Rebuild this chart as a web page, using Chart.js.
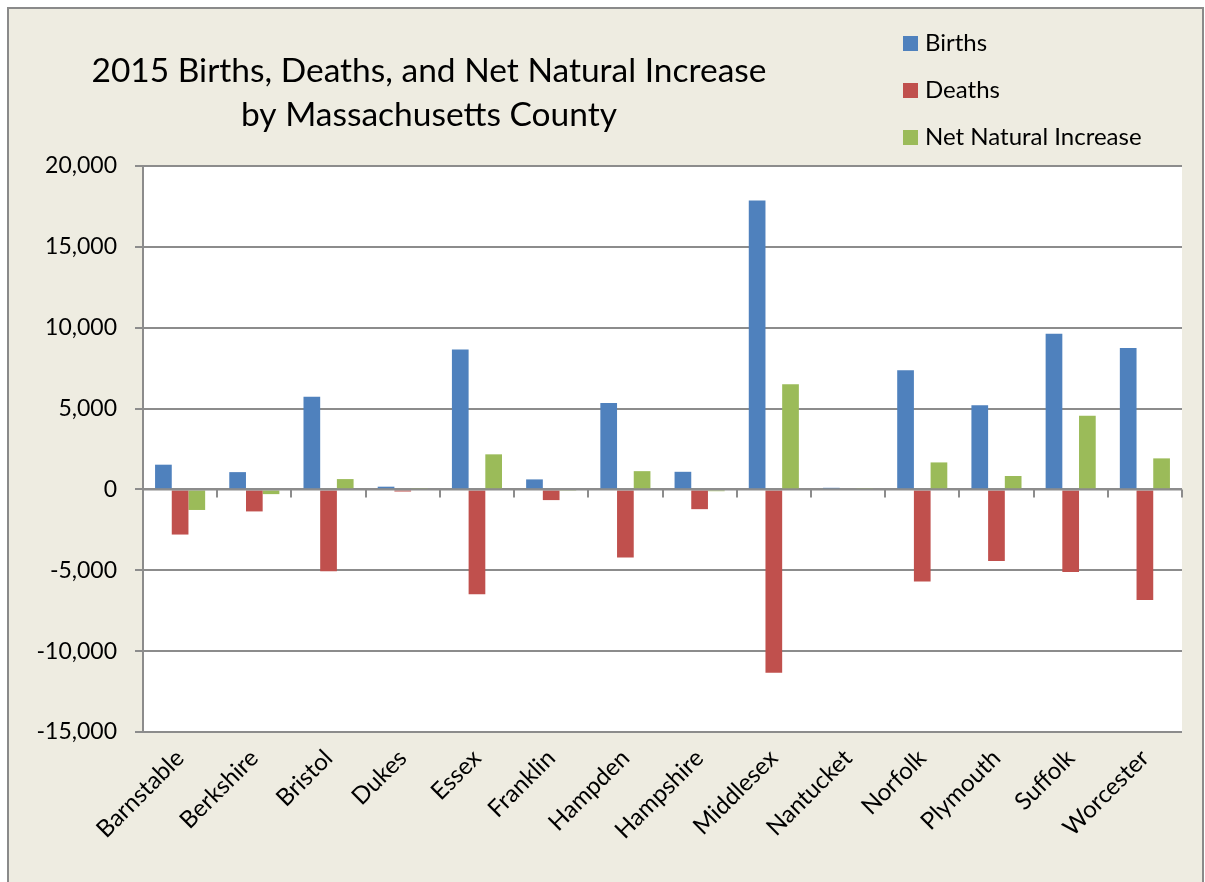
<!DOCTYPE html>
<html>
<head>
<meta charset="utf-8">
<script src="https://cdn.jsdelivr.net/npm/chart.js@4.4.1/dist/chart.umd.min.js"></script>
<style>
html, body { margin: 0; padding: 0; background: #ffffff; }
canvas { display: block; }
</style>
</head>
<body>
<canvas id="chartCanvas" width="1205" height="882"></canvas>
<script>
// data
var counties = ["Barnstable", "Berkshire", "Bristol", "Dukes", "Essex", "Franklin", "Hampden",
    "Hampshire", "Middlesex", "Nantucket", "Norfolk", "Plymouth", "Suffolk", "Worcester"];
var births = [1530, 1070, 5730, 170, 8660, 620, 5340, 1090, 17870, 100, 7370, 5200, 9620, 8750];
var deaths = [-2790, -1360, -5060, -130, -6480, -660, -4210, -1220, -11330, -60, -5700, -4420, -5100, -6830];
var netIncrease = [-1270, -290, 640, 40, 2170, -40, 1130, -110, 6500, 40, 1670, 830, 4560, 1920];
var seriesNames = ["Births", "Deaths", "Net Natural Increase"];
var seriesColors = ["#4F81BD", "#C0504D", "#9BBB59"];
var titleLines = ["2015 Births, Deaths, and Net Natural Increase", "by Massachusetts County"];
var yMin = -15000;
var yMax = 20000;
var yStep = 5000;

var fontFamily = "Lato, 'Open Sans', sans-serif";
var gridColor = "#8c8c8c";

//Background, frame and white plot area
var framePlugin = {
    id: "frame",
    beforeDraw: function (chart) {
        var ctx = chart.ctx;
        var area = chart.chartArea;
        ctx.save();
        ctx.fillStyle = "#ffffff";
        ctx.fillRect(0, 0, chart.width, chart.height);
        ctx.fillStyle = "#EEECE1";
        ctx.fillRect(8, 8, chart.width - 10, chart.height);
        ctx.strokeStyle = "#8a8a8a";
        ctx.lineWidth = 2;
        ctx.strokeRect(8, 8, chart.width - 10, chart.height + 10);
        ctx.fillStyle = "#ffffff";
        ctx.fillRect(area.left, area.top, area.right - area.left, area.bottom - area.top);
        ctx.restore();
    }
};

//Title and legend drawn in the top band
var headerPlugin = {
    id: "header",
    afterDraw: function (chart) {
        var ctx = chart.ctx;
        ctx.save();
        ctx.fillStyle = "#000000";
        ctx.font = "33.5px " + fontFamily;
        ctx.textAlign = "center";
        ctx.textBaseline = "middle";
        ctx.fillText(titleLines[0], 429, 71);
        ctx.fillText(titleLines[1], 429, 115);

        ctx.font = "24px " + fontFamily;
        ctx.textAlign = "left";
        var ys = [43, 90, 137];
        for (var i = 0; i < chart.data.datasets.length; i++) {
            var ds = chart.data.datasets[i];
            ctx.fillStyle = ds.backgroundColor;
            ctx.fillRect(903, ys[i] - 7, 15, 15);
            ctx.fillStyle = "#000000";
            ctx.fillText(ds.label, 925, ys[i]);
        }
        ctx.restore();
    }
};

//Axis line at zero with tick marks between the categories
var zeroAxisPlugin = {
    id: "zeroAxis",
    afterDatasetsDraw: function (chart) {
        var ctx = chart.ctx;
        var y0 = chart.scales.y.getPixelForValue(0);
        var area = chart.chartArea;
        var step = (area.right - area.left) / counties.length;
        ctx.save();
        ctx.strokeStyle = gridColor;
        ctx.lineWidth = 2;
        ctx.beginPath();
        ctx.moveTo(area.left, y0);
        ctx.lineTo(area.right, y0);
        for (var i = 0; i <= counties.length; i++) {
            var px = Math.round(area.left + i * step);
            ctx.moveTo(px, y0);
            ctx.lineTo(px, y0 + 8);
        }
        ctx.stroke();
        ctx.restore();
    }
};

var datasets = [births, deaths, netIncrease].map(function (values, i) {
    return {
        label: seriesNames[i],
        data: values,
        backgroundColor: seriesColors[i],
        borderWidth: 0,
        categoryPercentage: 0.675,
        barPercentage: 1.0
    };
});

var chart = new Chart(document.getElementById("chartCanvas"), {
    type: "bar",
    data: { labels: counties, datasets: datasets },
    plugins: [framePlugin, headerPlugin, zeroAxisPlugin],
    options: {
        responsive: false,
        animation: false,
        layout: { padding: { left: 0, top: 166, right: 23, bottom: 0 } },
        plugins: {
            legend: { display: false },
            title: { display: false },
            tooltip: { enabled: false }
        },
        scales: {
            x: {
                grid: { display: false },
                border: { display: false },
                ticks: {
                    color: "#000000",
                    font: { family: fontFamily, size: 24 },
                    minRotation: 45,
                    maxRotation: 45,
                    padding: 4,
                    autoSkip: false
                },
                afterFit: function (scale) { scale.height = 150; }
            },
            y: {
                min: yMin,
                max: yMax,
                grid: { color: gridColor, lineWidth: 2, tickLength: 8 },
                border: { color: gridColor, width: 2 },
                ticks: {
                    stepSize: yStep,
                    color: "#000000",
                    padding: 18,
                    font: { family: fontFamily, size: 23 },
                    callback: function (v) { return v.toLocaleString("en-US"); }
                },
                afterFit: function (scale) { scale.width = 143; }
            }
        }
    }
});
</script>
</body>
</html>
